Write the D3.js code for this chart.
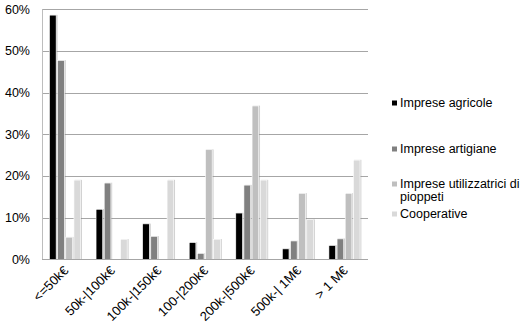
<!DOCTYPE html>
<html>
<head>
<meta charset="utf-8">
<script src="https://cdn.jsdelivr.net/npm/d3@7"></script>
<style>
  html, body { margin: 0; padding: 0; background: #fff; }
  svg { display: block; }
  text { font-family: "Liberation Sans", Arial, sans-serif; fill: #000; }
</style>
</head>
<body>
<svg id="chart" width="531" height="332"></svg>
<script>
// Fascia di fatturato
const categories = ["<=50k€", "50k-|100k€", "100k-|150k€", "100-|200k€", "200k-|500k€", "500k-| 1M€", "> 1 M€"];
const seriesNames = ["Imprese agricole", "Imprese artigiane", "Imprese utilizzatrici di pioppeti", "Cooperative"];
const agricole      = [58.6, 12.0, 8.5, 4.0, 11.1, 2.5, 3.3];
const artigiane     = [47.7, 18.3, 5.5, 1.4, 17.8, 4.4, 4.9];
const utilizzatrici = [5.3, 0, 0, 26.3, 36.8, 15.8, 15.8];
const cooperative   = [19.0, 4.8, 19.0, 4.8, 19.0, 9.5, 23.8];
const yTicks = [0, 10, 20, 30, 40, 50, 60];
const colors = ["#000000", "#808080", "#bfbfbf", "#d9d9d9"];

const series = [agricole, artigiane, utilizzatrici, cooperative];
const svg = d3.select("#chart");
const plot = { left: 42, right: 368, top: 9.3, bottom: 259.3 };

const x0 = d3.scaleBand().domain(categories).range([plot.left, plot.right]).paddingInner(0.3).paddingOuter(0.15);
const x1 = d3.scaleBand().domain(d3.range(series.length)).range([0, x0.bandwidth()]);
const y = d3.scaleLinear().domain([0, 60]).range([plot.bottom, plot.top]);

// soft shadow behind bars
const defs = svg.append("defs");
const f = defs.append("filter").attr("id", "shadow").attr("x", "-50%").attr("y", "-10%").attr("width", "200%").attr("height", "120%");
f.append("feDropShadow").attr("dx", 1).attr("dy", 0).attr("stdDeviation", 0.7)
  .attr("flood-color", "#888").attr("flood-opacity", 0.45);

// gridlines
svg.append("g").selectAll("line").data(yTicks.filter(d => d > 0)).join("line")
  .attr("x1", plot.left).attr("x2", plot.right)
  .attr("y1", d => Math.round(y(d)) + 0.5).attr("y2", d => Math.round(y(d)) + 0.5)
  .attr("stroke", "#a6a6a6").attr("stroke-width", 1);

// y axis labels
const yAxis = d3.axisLeft(y).tickValues(yTicks).tickFormat(d => d + "%").tickSize(0).tickPadding(12);
const gy = svg.append("g").attr("transform", `translate(${plot.left},0)`).call(yAxis);
gy.select(".domain").remove();
gy.selectAll("text").attr("font-size", 12.5).attr("font-family", "Liberation Sans, Arial, sans-serif").attr("fill", "#000");

// bars
const groups = svg.append("g").selectAll("g").data(categories).join("g")
  .attr("transform", d => `translate(${x0(d)},0)`);
groups.selectAll("rect").data((c, i) => series.map((s, k) => ({ k, v: s[i] }))).join("rect")
  .filter(d => d.v > 0)
  .attr("x", d => x1(d.k) + 0.5)
  .attr("width", x1.bandwidth() - 1.5)
  .attr("y", d => y(d.v))
  .attr("height", d => plot.bottom - y(d.v))
  .attr("fill", d => colors[d.k])
  .attr("stroke", "#fff").attr("stroke-width", 0.6)
  .attr("filter", "url(#shadow)");

// axes lines
svg.append("line").attr("x1", plot.left + 0.5).attr("x2", plot.left + 0.5)
  .attr("y1", plot.top).attr("y2", plot.bottom).attr("stroke", "#bdbdbd");
svg.append("line").attr("x1", plot.left).attr("x2", plot.right)
  .attr("y1", Math.round(plot.bottom) + 0.5).attr("y2", Math.round(plot.bottom) + 0.5).attr("stroke", "#a6a6a6");

// x axis labels, rotated
const xAxis = d3.axisBottom(x0).tickSize(0).tickPadding(0);
const gx = svg.append("g").attr("transform", `translate(0,${plot.bottom})`).call(xAxis);
gx.select(".domain").remove();
gx.selectAll("text")
  .attr("font-size", 13).attr("font-family", "Liberation Sans, Arial, sans-serif").attr("fill", "#000")
  .attr("text-anchor", "end").attr("dy", 0).attr("y", 0)
  .attr("transform", "translate(4,12) rotate(-45)");

// legend
const legendRows = [
  { k: 0, lines: ["Imprese agricole"], y: 107 },
  { k: 1, lines: ["Imprese artigiane"], y: 153 },
  { k: 2, lines: ["Imprese utilizzatrici di", "pioppeti"], y: 188 },
  { k: 3, lines: ["Cooperative"], y: 218 }
];
const lg = svg.append("g");
legendRows.forEach(r => {
  lg.append("rect").attr("x", 392).attr("y", r.y - 6.5).attr("width", 5).attr("height", 5)
    .attr("fill", colors[r.k]);
  const t = lg.append("text").attr("x", 400).attr("y", r.y).attr("font-size", 12.5);
  r.lines.forEach((l, i) => t.append("tspan").attr("x", 400).attr("dy", i === 0 ? 0 : 12.5).text(l));
});
</script>
</body>
</html>
